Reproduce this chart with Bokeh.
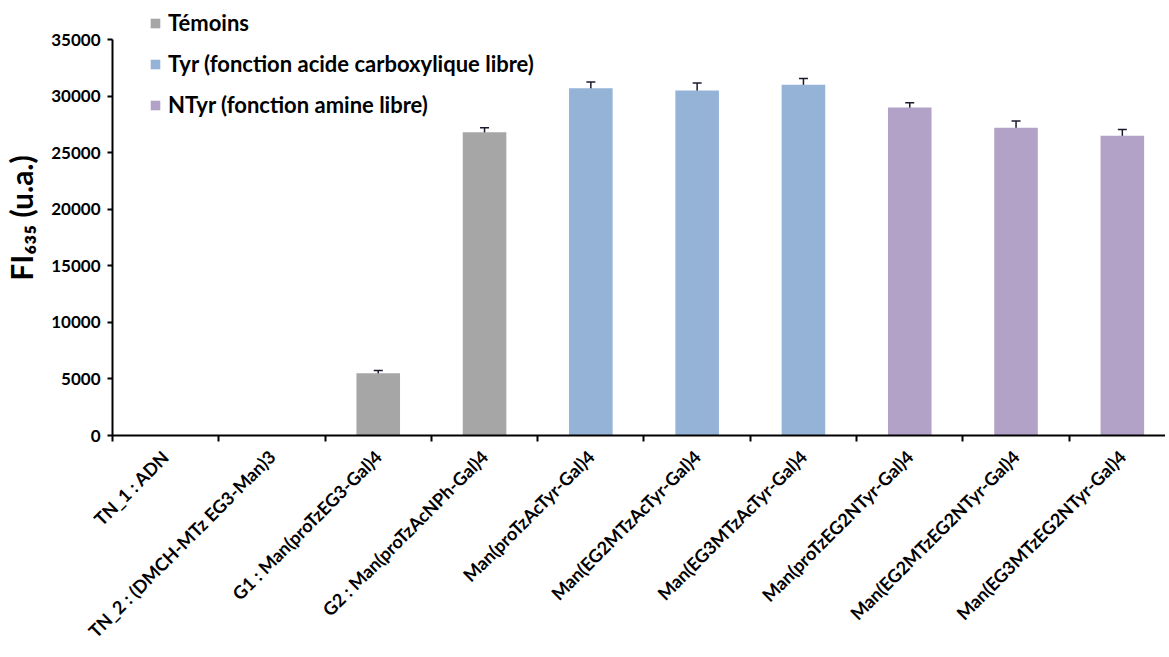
import math
from bokeh.plotting import figure
from bokeh.models import (ColumnDataSource, Range1d, FixedTicker, Whisker, TeeHead,
                          Legend, LegendItem)
from bokeh.embed import file_html
from bokeh.resources import INLINE

# ---- data ----
categories = [
    "TN_1 : ADN",
    "TN_2 : (DMCH-MTz EG3-Man)3",
    "G1 : Man(proTzEG3-Gal)4",
    "G2 : Man(proTzAcNPh-Gal)4",
    "Man(proTzAcTyr-Gal)4",
    "Man(EG2MTzAcTyr-Gal)4",
    "Man(EG3MTzAcTyr-Gal)4",
    "Man(proTzEG2NTyr-Gal)4",
    "Man(EG2MTzEG2NTyr-Gal)4",
    "Man(EG3MTzEG2NTyr-Gal)4",
]
values = [0, 0, 5500, 26800, 30700, 30500, 31000, 29000, 27200, 26500]
errors = [0, 0, 250, 400, 550, 650, 550, 400, 600, 550]
groups = ["Témoins", "Témoins", "Témoins", "Témoins",
          "Tyr (fonction acide carboxylique libre)",
          "Tyr (fonction acide carboxylique libre)",
          "Tyr (fonction acide carboxylique libre)",
          "NTyr (fonction amine libre)",
          "NTyr (fonction amine libre)",
          "NTyr (fonction amine libre)"]
group_names = ["Témoins", "Tyr (fonction acide carboxylique libre)", "NTyr (fonction amine libre)"]
group_colors = ["#a6a6a6", "#95b3d7", "#b3a2c7"]
y_ticks = [0, 5000, 10000, 15000, 20000, 25000, 30000, 35000]

FONT = "Lato"

x_centers = [i + 0.5 for i in range(len(categories))]

p = figure(frame_width=1053, frame_height=435,
           min_border_left=108, min_border_right=0, min_border_top=0, min_border_bottom=214,
           x_range=Range1d(0, 9.906), y_range=Range1d(0, 38447),
           output_backend="svg", toolbar_location=None)
p.grid.visible = False
p.outline_line_color = None
p.background_fill_color = "white"
p.border_fill_color = "white"

renderers = []
for name, col in zip(group_names, group_colors):
    idx = [i for i, g in enumerate(groups) if g == name]
    src = ColumnDataSource(dict(x=[x_centers[i] for i in idx], top=[values[i] for i in idx]))
    r = p.vbar(x="x", top="top", width=0.41, bottom=0, source=src,
               fill_color=col, line_color=None)
    renderers.append(r)

eidx = [i for i in range(len(values)) if errors[i] > 0]
esrc = ColumnDataSource(dict(x=[x_centers[i] for i in eidx],
                             upper=[values[i] + errors[i] for i in eidx],
                             lower=[values[i] - errors[i] for i in eidx]))
w = Whisker(base="x", upper="upper", lower="lower", source=esrc,
            line_color="#1a1a2e", line_width=1.5,
            upper_head=TeeHead(size=9, line_color="#1a1a2e", line_width=1.5),
            lower_head=TeeHead(size=9, line_color="#1a1a2e", line_width=1.5))
p.add_layout(w)

# x axis
xa = p.xaxis[0]
xa.ticker = FixedTicker(ticks=x_centers, minor_ticks=list(range(0, 11)))
xa.major_label_overrides = {xc: c for xc, c in zip(x_centers, categories)}
xa.major_label_orientation = math.pi / 4
xa.major_tick_out = 0
xa.major_tick_in = 0
xa.minor_tick_out = 6
xa.minor_tick_in = 0
xa.minor_tick_line_color = "black"
xa.minor_tick_line_width = 2
xa.axis_line_color = "black"
xa.axis_line_width = 2
xa.major_label_text_font = FONT
xa.major_label_text_font_style = "bold"
xa.major_label_text_font_size = "18px"
xa.major_label_text_color = "black"
xa.major_label_standoff = 12

# y axis
ya = p.yaxis[0]
ya.ticker = FixedTicker(ticks=y_ticks)
ya.bounds = (0, 35000)
ya.minor_tick_line_color = None
ya.major_tick_out = 5
ya.major_tick_in = 0
ya.major_tick_line_width = 2
ya.major_tick_line_color = "black"
ya.axis_line_color = "black"
ya.axis_line_width = 2
ya.major_label_text_font = FONT
ya.major_label_text_font_style = "bold"
ya.major_label_text_font_size = "17px"
ya.major_label_text_color = "black"
ya.major_label_standoff = 7
ya.axis_label = "FI₆₃₅ (u.a.)"
ya.axis_label_text_font = FONT
ya.axis_label_text_font_style = "bold"
ya.axis_label_text_font_size = "30px"
ya.axis_label_text_color = "black"
ya.axis_label_standoff = 9

legend = Legend(items=[LegendItem(label=n, renderers=[r]) for n, r in zip(group_names, renderers)],
                location=(37, 317), orientation="vertical",
                glyph_width=12, glyph_height=12, label_height=12,
                label_standoff=7, spacing=14, padding=0, margin=0,
                border_line_color=None, background_fill_alpha=0,
                label_text_font=FONT, label_text_font_style="bold",
                label_text_font_size="22px", label_text_color="black")
p.add_layout(legend)

open("out.html", "w").write(file_html(p, INLINE))
